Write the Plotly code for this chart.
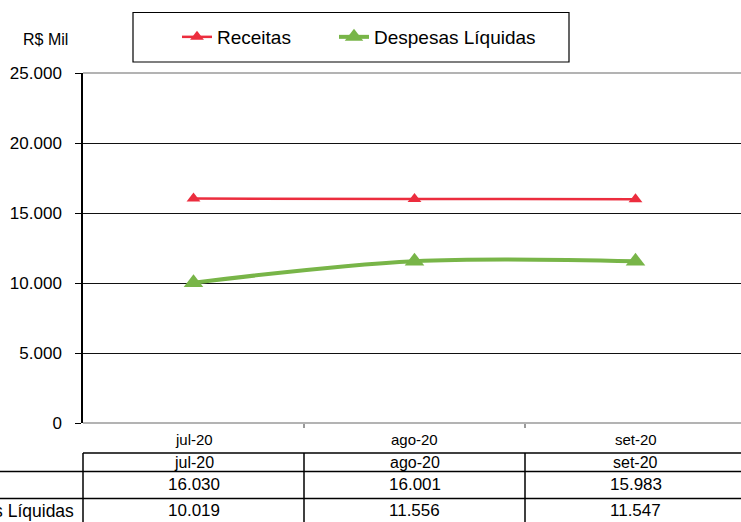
import plotly.graph_objects as go

# ---- data ----
categories = ["jul-20", "ago-20", "set-20"]
receitas = [16030, 16001, 15983]
despesas = [10019, 11556, 11547]
y_ticks = [0, 5000, 10000, 15000, 20000, 25000]
series_names = ["Receitas", "Despesas Líquidas"]

W, H = 741, 522
ML, MR, MT, MB = 83, 0, 73, 99
PW = W - ML - MR
PH = H - MT - MB
x_range = [-0.5, -0.5 + PW / 221.0]
FONT = "Liberation Sans, Arial, sans-serif"
RED = "#EC2D3E"
GREEN = "#78B548"


def fmt(v):
    return f"{v:,}".replace(",", ".")


def px_to_py(py):
    return (H - MB - py) / PH


def px_to_px(px):
    return (px - ML) / PW


def xdata_to_paper(v):
    return (v - x_range[0]) / (x_range[1] - x_range[0])


xs = list(range(len(categories)))

fig = go.Figure()
fig.add_trace(go.Scatter(
    x=xs, y=receitas, name=series_names[0], mode="lines+markers", legend="legend",
    line=dict(color=RED, width=2.5, shape="spline"),
    marker=dict(symbol="triangle-up", size=12, color=RED),
))
fig.add_trace(go.Scatter(
    x=xs, y=despesas, name=series_names[1], mode="lines+markers", legend="legend2",
    line=dict(color=GREEN, width=4, shape="spline"),
    marker=dict(symbol="triangle-up", size=17, color=GREEN),
))

shapes = []
# gray top border / x-axis line
for yp in (0, 1):
    shapes.append(dict(type="line", xref="paper", yref="paper", x0=0, x1=1, y0=yp, y1=yp,
                       line=dict(color="#9A9A9A", width=1.5), layer="above"))

# data table lines
y_top = px_to_py(453)
y_r1 = px_to_py(471.5)
y_r2 = px_to_py(498.5)
y_bot = px_to_py(530)
x_left_out = px_to_px(-5)
shapes.append(dict(type="line", xref="paper", yref="paper", x0=0, x1=1.01, y0=y_top, y1=y_top,
                   line=dict(color="black", width=1.5)))
for yy in (y_r1, y_r2):
    shapes.append(dict(type="line", xref="paper", yref="paper", x0=x_left_out, x1=1.01, y0=yy, y1=yy,
                       line=dict(color="black", width=1.5)))
for i in range(len(categories)):
    xp = xdata_to_paper(i - 0.5)
    shapes.append(dict(type="line", xref="paper", yref="paper", x0=xp, x1=xp, y0=y_top, y1=y_bot,
                       line=dict(color="black", width=1.5)))

# legend border
shapes.append(dict(type="rect", xref="paper", yref="paper",
                   x0=px_to_px(133), x1=px_to_px(569), y0=px_to_py(62), y1=px_to_py(12.5),
                   line=dict(color="black", width=1.2), fillcolor="rgba(0,0,0,0)"))

annotations = []
# unit label
annotations.append(dict(text="R$ Mil", xref="paper", yref="paper", x=px_to_px(70), y=px_to_py(40),
                        xanchor="right", yanchor="middle", showarrow=False,
                        font=dict(family=FONT, size=16, color="black")))
for i, c in enumerate(categories):
    annotations.append(dict(text=c, xref="x", yref="paper", x=i, y=px_to_py(439),
                            xanchor="center", yanchor="middle", showarrow=False,
                            font=dict(family=FONT, size=15, color="black")))
    annotations.append(dict(text=c, xref="x", yref="paper", x=i, y=px_to_py(462),
                            xanchor="center", yanchor="middle", showarrow=False,
                            font=dict(family=FONT, size=16, color="black")))
    annotations.append(dict(text=fmt(receitas[i]), xref="x", yref="paper", x=i, y=px_to_py(485),
                            xanchor="center", yanchor="middle", showarrow=False,
                            font=dict(family=FONT, size=17, color="black")))
    annotations.append(dict(text=fmt(despesas[i]), xref="x", yref="paper", x=i, y=px_to_py(511),
                            xanchor="center", yanchor="middle", showarrow=False,
                            font=dict(family=FONT, size=17, color="black")))
annotations.append(dict(text=series_names[1], xref="paper", yref="paper", x=px_to_px(76), y=px_to_py(511),
                        xanchor="right", yanchor="middle", showarrow=False,
                        font=dict(family=FONT, size=17.5, color="black")))

legend_common = dict(orientation="h", xref="container", yref="container",
                     y=1 - 37 / H, xanchor="left", yanchor="middle",
                     bgcolor="rgba(0,0,0,0)", borderwidth=0,
                     font=dict(family=FONT, size=19, color="black"))

fig.update_layout(
    width=W, height=H,
    margin=dict(l=ML, r=MR, t=MT, b=MB, pad=0, autoexpand=False),
    paper_bgcolor="white", plot_bgcolor="white",
    separators=",.",
    font=dict(family=FONT, size=16, color="black"),
    showlegend=True,
    legend=dict(x=177 / W, **legend_common),
    legend2=dict(x=334 / W, **legend_common),
    xaxis=dict(range=x_range, showgrid=False, zeroline=False, showline=False, automargin=False,
               tickvals=[0.5, 1.5], ticktext=["", ""], ticks="outside", ticklen=4,
               tickcolor="#9A9A9A", tickwidth=1.5, fixedrange=True),
    yaxis=dict(range=[0, 25000], tickvals=y_ticks, tickformat=",d", showgrid=True, automargin=False,
               gridcolor="#111111", gridwidth=1.2, zeroline=False,
               showline=True, linecolor="black", linewidth=1.5,
               ticks="outside", ticklen=6, tickcolor="black", tickwidth=1.2,
               ticklabelstandoff=10, tickfont=dict(family=FONT, size=17, color="black")),
    shapes=shapes,
    annotations=annotations,
)

fig.write_html("out.html", config={"displayModeBar": False},
               post_script="document.body.style.margin='0px';")
